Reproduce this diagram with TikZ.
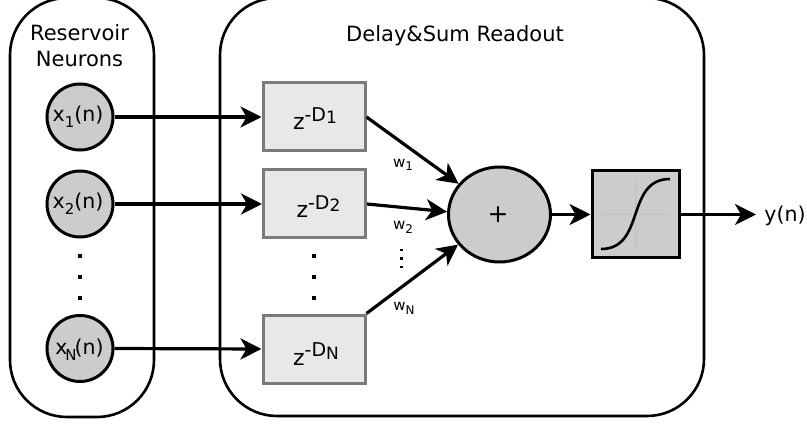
\documentclass[tikz,border=0pt]{standalone}
\usepackage{fontspec}
\setmainfont{DejaVu Sans}
\usetikzlibrary{arrows.meta,shapes.geometric}
\newcommand\fs[1]{\fontsize{#1}{#1}\selectfont}
\newcommand\xsub[2]{\fs{20.5}x\kern#2pt\raisebox{-6pt}{\fs{15}#1}\kern#2pt(n)}
\newcommand\zd[1]{\fs{22}z\raisebox{8.5pt}{\fs{19}-D\raisebox{-2.5pt}{\fs{17}#1}}}
\newcommand\wsub[1]{\fs{15}w\raisebox{-3pt}{\fs{12}#1}}
\tikzset{
  x=1pt,y=-1pt,
  outer/.style={draw=black,line width=2.6pt,fill=none,rounded corners=57pt},
  neuron/.style={circle,draw=black,line width=3pt,fill=black!20,minimum size=66pt,inner sep=0pt},
  delay/.style={rectangle,draw=black!52,line width=3pt,fill=black!9,minimum width=102pt,minimum height=68pt,inner sep=0pt},
  sumnode/.style={ellipse,draw=black,line width=3pt,fill=black!20,minimum width=102pt,minimum height=95pt,inner sep=0pt},
  sigbox/.style={rectangle,draw=black,line width=3pt,fill=black!20,minimum size=87pt,inner sep=0pt},
  txt/.style={anchor=base,inner sep=0pt,text=black},
  conn/.style={draw=black,line width=3.2pt,-{Stealth[length=21pt,width=21pt,inset=6pt]}},
  dotmark/.style={fill=black,inner sep=0pt,minimum size=3.8pt},
}
\begin{document}
\begin{tikzpicture}
\useasboundingbox (0,0) rectangle (807,425);
\draw[outer] (10,-2) rectangle (154,417);
\draw[outer] (220,-2) rectangle (704,416);
\node[txt] (t1) at (79.5,41) {\fs{21}Reservoir};
\node[txt] (t2) at (79.5,67) {\fs{21}Neurons};
\node[txt] (t3) at (455,42) {\fs{21}Delay\&Sum Readout};
\node[neuron] (x1) at (80,117) {};
\node[neuron] (x2) at (80,204) {};
\node[neuron] (xn) at (80,348.5) {};
\node[txt] (lx1) at (78,122) {\xsub{1}{0}};
\node[txt] (lx2) at (78,209) {\xsub{2}{0}};
\node[txt] (lxn) at (79.5,354) {\xsub{N}{-2}};
\node[delay] (d1) at (314,117) {};
\node[delay] (d2) at (314.5,204) {};
\node[delay] (dn) at (314,349) {};
\node[txt] (ld1) at (315,130) {\zd{1}};
\node[txt] (ld2) at (318.5,218) {\zd{2}};
\node[txt] (ldn) at (316,365) {\zd{N}};
\node[sumnode] (sum) at (499.5,214.5) {};
\node[txt] (plus) at (498,223) {\fs{25}+};
\node[sigbox] (sig) at (635.5,214.5) {};
\draw[black!25,line width=.7pt] (601,214.5) -- (670,214.5) (635.5,180) -- (635.5,249);
\draw[black,line width=2.6pt] (601,249) .. controls (646,249) and (625,179) .. (670,179);
\coordinate (yend) at (756,214.5);
\node[txt] (ly) at (785,222) {\fs{20.5}y(n)};
\draw[conn] (x1.east) -- (d1.west);
\draw[conn] (x2.east) -- (d2.west);
\draw[conn] (xn.east) -- (dn.west);
\draw[conn] (d1.east) -- (sum.143);
\draw[conn] (d2.east) -- (sum.177);
\draw[conn] (dn.north east) -- (sum.216);
\draw[conn] (sum.east) -- (sig.west);
\draw[conn] (sig.east) -- (yend);
\node[txt] (w1) at (403,168) {\wsub{1}};
\node[txt] (w2) at (403,230) {\wsub{2}};
\node[txt] (wn) at (404,311) {\wsub{N}};
\foreach \yy in {256,277,298}{
  \node[dotmark] at (80,\yy) {};
  \node[dotmark] at (314,\yy) {};
}
\foreach \yy in {250,258.5,267}{
  \node[dotmark,minimum size=2.6pt] at (401.5,\yy) {};
}
\end{tikzpicture}
\end{document}
